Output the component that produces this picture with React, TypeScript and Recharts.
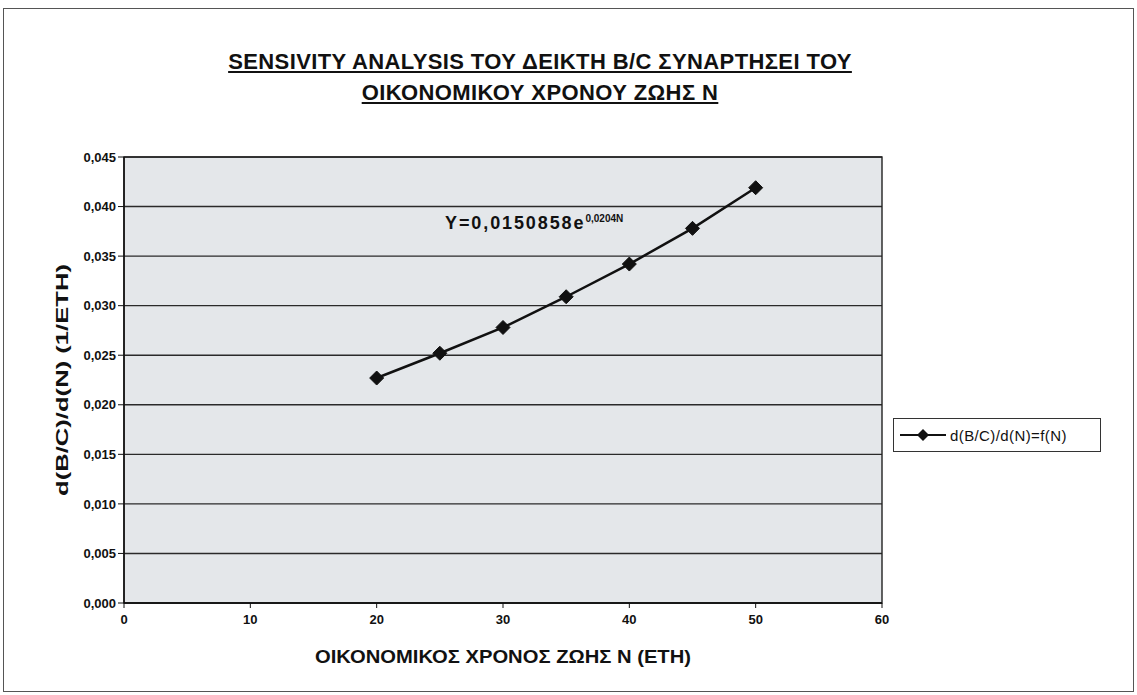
import React from "react";
import {
  LineChart,
  Line,
  XAxis,
  YAxis,
  CartesianGrid,
  Legend,
} from "recharts";

// N (years) and d(B/C)/d(N) values
const years = [20, 25, 30, 35, 40, 45, 50];
const slope = [0.0227, 0.0252, 0.0278, 0.0309, 0.0342, 0.0378, 0.0419];
const xTicks = [0, 10, 20, 30, 40, 50, 60];
const yTicks = [0, 0.005, 0.01, 0.015, 0.02, 0.025, 0.03, 0.035, 0.04, 0.045];

const seriesName = "d(B/C)/d(N)=f(N)";
const xTitle = "ΟΙΚΟΝΟΜΙΚΟΣ ΧΡΟΝΟΣ ΖΩΗΣ Ν (ΕΤΗ)";
const yTitle = "d(B/C)/d(N) (1/ΕΤΗ)";
const FONT = "'Liberation Sans', Arial, sans-serif";

const data = years.map((n, i) => ({ n, v: slope[i] }));

const fmtY = (v: number) => v.toFixed(3).replace(".", ",");

const Diamond = (props: any) => {
  const { cx, cy } = props;
  if (cx == null || cy == null) return null;
  const s = 7;
  return (
    <path
      d={`M${cx},${cy - s}L${cx + s},${cy}L${cx},${cy + s}L${cx - s},${cy}Z`}
      fill="#111"
      stroke="#111"
    />
  );
};

// axis titles in the scan are stretched along the text, so fit them with textLength
const XTitle = (props: any) => {
  const vb = props.viewBox || {};
  const cx = vb.x + vb.width / 2;
  return (
    <text
      x={cx}
      y={vb.y + 60}
      textAnchor="middle"
      fontSize={18}
      fontWeight="bold"
      fontFamily={FONT}
      fill="#111"
      textLength={376}
      lengthAdjust="spacingAndGlyphs"
    >
      {xTitle}
    </text>
  );
};

const YTitle = (props: any) => {
  const vb = props.viewBox || {};
  const cx = 62;
  const cy = vb.y + vb.height / 2;
  return (
    <text
      x={cx}
      y={cy}
      transform={`rotate(-90 ${cx} ${cy})`}
      textAnchor="middle"
      dominantBaseline="central"
      fontSize={17}
      fontWeight="bold"
      fontFamily={FONT}
      fill="#111"
      textLength={232}
      lengthAdjust="spacingAndGlyphs"
    >
      {yTitle}
    </text>
  );
};

const LegendBox = () => (
  <div
    style={{
      border: "1px solid #333",
      background: "#fff",
      display: "flex",
      alignItems: "center",
      height: 34,
      boxSizing: "border-box",
      padding: "0 4px",
      fontFamily: FONT,
      fontSize: 15,
      color: "#111",
    }}
  >
    <svg width={50} height={16} style={{ marginRight: 2 }}>
      <line x1={2} y1={8} x2={48} y2={8} stroke="#111" strokeWidth={2} />
      <path d="M25,2L31,8L25,14L19,8Z" fill="#111" />
    </svg>
    <span style={{ letterSpacing: 0.4 }}>{seriesName}</span>
  </div>
);

export default function App() {
  return (
    <div
      style={{
        position: "absolute",
        left: 0,
        top: 0,
        width: 1137,
        height: 695,
        background: "#fff",
        fontFamily: FONT,
      }}
    >
      {/* outer frame */}
      <div
        style={{
          position: "absolute",
          left: 3,
          top: 8,
          width: 1129,
          height: 682,
          border: "1px solid #555",
        }}
      />
      <div
        style={{
          position: "absolute",
          left: 0,
          width: 1080,
          top: 46,
          textAlign: "center",
          fontWeight: "bold",
          fontSize: 22,
          lineHeight: "31px",
          letterSpacing: 0.4,
          textDecoration: "underline",
          color: "#111",
        }}
      >
        SENSIVITY ANALYSIS ΤΟΥ ΔΕΙΚΤΗ Β/C ΣΥΝΑΡΤΗΣΕΙ ΤΟΥ
        <br />
        ΟΙΚΟΝΟΜΙΚΟΥ ΧΡΟΝΟΥ ΖΩΗΣ Ν
      </div>

      <LineChart
        width={1137}
        height={695}
        data={data}
        margin={{ top: 157, right: 255, bottom: 62, left: 64 }}
      >
        <CartesianGrid
          horizontal
          vertical={false}
          fill="#e4e7ea"
          stroke="#2a2a2a"
          strokeWidth={1.4}
        />
        <XAxis
          dataKey="n"
          type="number"
          domain={[0, 60]}
          ticks={xTicks}
          height={30}
          tickSize={5}
          tickMargin={7}
          axisLine={{ stroke: "#111", strokeWidth: 1.5 }}
          tickLine={{ stroke: "#111" }}
          tick={{ fontSize: 13, fontWeight: "bold", fill: "#111", fontFamily: FONT }}
          label={<XTitle />}
        />
        <YAxis
          type="number"
          domain={[0, 0.045]}
          ticks={yTicks}
          width={60}
          tickSize={6}
          tickFormatter={fmtY}
          axisLine={{ stroke: "#111", strokeWidth: 1.5 }}
          tickLine={{ stroke: "#111" }}
          tick={{ fontSize: 13, fontWeight: "bold", fill: "#111", fontFamily: FONT }}
          label={<YTitle />}
        />
        <Legend
          layout="vertical"
          align="center"
          verticalAlign="middle"
          content={() => <LegendBox />}
          wrapperStyle={{ left: 893, top: 418, width: 208 }}
        />
        <Line
          type="linear"
          dataKey="v"
          name={seriesName}
          stroke="#111"
          strokeWidth={2.5}
          dot={<Diamond />}
          isAnimationActive={false}
        />
        {/* top and right frame of plot area */}
        <rect x={124} y={157} width={758} height={446} fill="none" stroke="#222" strokeWidth={1.4} />
      </LineChart>

      <div
        style={{
          position: "absolute",
          left: 445,
          top: 213,
          fontWeight: "bold",
          fontSize: 18,
          color: "#111",
          whiteSpace: "nowrap",
        }}
      >
        <span style={{ letterSpacing: 1.9 }}>Y=0,0150858e</span>
        <sup style={{ fontSize: 10 }}>0,0204N</sup>
      </div>
    </div>
  );
}
